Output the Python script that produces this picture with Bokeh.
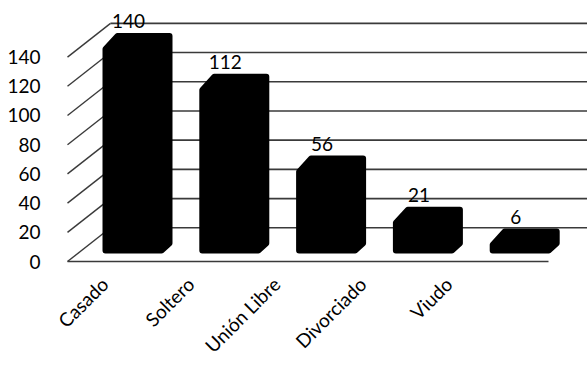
import math
from bokeh.plotting import figure
from bokeh.models import Range1d, FixedTicker
from bokeh.embed import file_html
from bokeh.resources import INLINE
from bokeh.core.properties import value

categories = ["Casado", "Soltero", "Unión Libre", "Divorciado", "Viudo"]
counts = [140, 112, 56, 21, 6]
y_ticks = [0, 20, 40, 60, 80, 100, 120, 140]

W, H = 587, 368
FONT = "Lato"
ppu = 206 / 140.0              # pixels per unit on the y scale
frame_left, frame_bottom = 50, 268
y0_px = 263
y_lo = -(frame_bottom - y0_px) / ppu
y_hi = y0_px / ppu

p = figure(width=W, height=H,
           x_range=Range1d(frame_left, W), y_range=Range1d(y_lo, y_hi),
           output_backend="svg", toolbar_location=None,
           min_border_left=frame_left, min_border_right=0,
           min_border_top=0, min_border_bottom=H - frame_bottom)
p.outline_line_color = None
p.xgrid.visible = False
p.ygrid.visible = False
p.background_fill_color = "white"
p.border_fill_color = "white"

# 3D wall geometry
front_x0, front_x1 = 67, 548
dx = 43
dy = 34 / ppu
p.segment(x0=[front_x0 + dx] * len(y_ticks), y0=[t + dy for t in y_ticks],
          x1=[W] * len(y_ticks), y1=[t + dy for t in y_ticks],
          line_color="#3a3a3a", line_width=1.6)
p.segment(x0=[front_x0] * len(y_ticks), y0=y_ticks,
          x1=[front_x0 + dx] * len(y_ticks), y1=[t + dy for t in y_ticks],
          line_color="#3a3a3a", line_width=1.4)
p.segment(x0=[front_x0], y0=[0], x1=[front_x1], y1=[0],
          line_color="#3a3a3a", line_width=1.6)

# bars
c0, step, hw = 137, 96.8, 32
base = 7.5
topface = 7
ct_x, ct_y = 12, 9
cb_x, cb_y = 8, 5
xs, ys = [], []
lx, ly = [], []
for i, v in enumerate(counts):
    c = c0 + i * step
    xl, xr = c - hw, c + hw
    yt = base + v + topface
    xs.append([xl, xr - cb_x, xr, xr, xl + ct_x, xl])
    ys.append([base, base, base + cb_y, yt, yt, yt - ct_y])
    lx.append(c - 9)
    ly.append(yt + 15 / ppu)
p.patches(xs=xs, ys=ys, fill_color="black", line_color="black",
          line_width=6, line_join="round")
p.text(x=lx, y=ly, text=[str(v) for v in counts], text_align="center",
       text_baseline="middle", text_font=value(FONT), text_font_size="19px",
       text_color="black")

# axes
yax = p.yaxis[0]
yax.ticker = FixedTicker(ticks=y_ticks)
yax.axis_line_color = None
yax.major_tick_line_color = None
yax.minor_tick_line_color = None
yax.major_label_standoff = 4
yax.major_label_text_font = FONT
yax.major_label_text_font_size = "19px"
yax.major_label_text_color = "black"

xax = p.xaxis[0]
label_pos = [104 + i * 86 for i in range(len(categories))]
xax.ticker = FixedTicker(ticks=label_pos)
xax.major_label_overrides = {pos: cat for pos, cat in zip(label_pos, categories)}
xax.major_label_orientation = math.pi / 4
xax.axis_line_color = None
xax.major_tick_line_color = None
xax.minor_tick_line_color = None
xax.major_label_standoff = 8
xax.major_label_text_font = FONT
xax.major_label_text_font_size = "19px"
xax.major_label_text_color = "black"

open("out.html", "w").write(file_html(p, INLINE))
